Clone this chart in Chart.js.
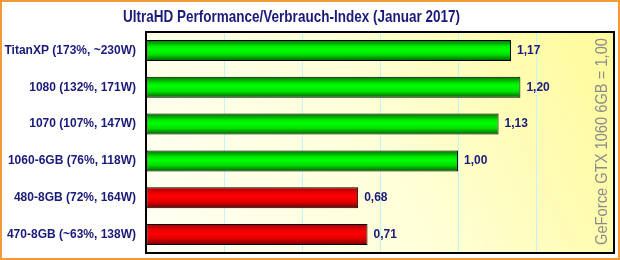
<!DOCTYPE html>
<html>
<head>
<meta charset="utf-8">
<script src="https://cdn.jsdelivr.net/npm/chart.js@4"></script>
<style>
  html, body { margin: 0; padding: 0; background: #fff; }
  #wrap { width: 620px; height: 260px; }
</style>
</head>
<body>
<div id="wrap"><canvas id="chart" width="620" height="260"></canvas></div>
<script>
// data
const categories = ['TitanXP (173%, ~230W)', '1080 (132%, 171W)', '1070 (107%, 147W)', '1060-6GB (76%, 118W)', '480-8GB (72%, 164W)', '470-8GB (~63%, 138W)'];
const indexValues = [1.17, 1.20, 1.13, 1.00, 0.68, 0.71];
const vendors = ['nvidia', 'nvidia', 'nvidia', 'nvidia', 'amd', 'amd'];
const xTicks = [0, 0.25, 0.5, 0.75, 1.0, 1.25, 1.5];

const titleText = 'UltraHD Performance/Verbrauch-Index (Januar 2017)';
const sideText = 'GeForce GTX 1060 6GB = 1,00';
const NAVY = '#1a1a7a';

function barGradient(ctx, top, bottom, vendor) {
  const g = ctx.createLinearGradient(0, top, 0, bottom);
  if (vendor === 'nvidia') {
    g.addColorStop(0, '#006a00');
    g.addColorStop(0.3, '#00e600');
    g.addColorStop(0.45, '#00ff00');
    g.addColorStop(0.7, '#00e000');
    g.addColorStop(1, '#005a00');
  } else {
    g.addColorStop(0, '#a00000');
    g.addColorStop(0.3, '#ee0000');
    g.addColorStop(0.45, '#ff0000');
    g.addColorStop(0.7, '#e00000');
    g.addColorStop(1, '#6a0000');
  }
  return g;
}

// text squeezed to a given width, keeps the font height
function fitText(ctx, txt, x, y, width) {
  const w = ctx.measureText(txt).width;
  ctx.save();
  ctx.translate(x, y);
  ctx.scale(width / w, 1);
  ctx.fillText(txt, 0, 0);
  ctx.restore();
}

const decoPlugin = {
  id: 'deco',
  beforeDraw(chart) {
    const ctx = chart.ctx;
    const a = chart.chartArea;
    ctx.save();
    ctx.fillStyle = '#ffffff';
    ctx.fillRect(0, 0, chart.width, chart.height);
    const g = ctx.createLinearGradient(a.left, a.bottom, a.right, a.top);
    g.addColorStop(0, '#fffff4');
    g.addColorStop(0.5, '#ffffd8');
    g.addColorStop(1, '#fffa98');
    ctx.fillStyle = g;
    ctx.fillRect(a.left, a.top, a.right - a.left, a.bottom - a.top);
    ctx.restore();
  },
  afterDatasetsDraw(chart) {
    const ctx = chart.ctx;
    const meta = chart.getDatasetMeta(0);
    ctx.save();
    ctx.font = 'bold 12px "Liberation Sans", Arial, sans-serif';
    ctx.fillStyle = NAVY;
    ctx.textBaseline = 'middle';
    ctx.textAlign = 'left';
    meta.data.forEach((bar, i) => {
      const txt = indexValues[i].toFixed(2).replace('.', ',');
      ctx.fillText(txt, bar.x + 6, bar.y);
    });
    ctx.restore();
  },
  afterDraw(chart) {
    const ctx = chart.ctx;
    const a = chart.chartArea;
    ctx.save();
    // plot frame
    ctx.strokeStyle = '#000';
    ctx.lineWidth = 2;
    ctx.strokeRect(a.left, a.top, a.right - a.left, a.bottom - a.top);
    // side note
    ctx.translate(603, 245);
    ctx.rotate(-Math.PI / 2);
    ctx.font = '16px "Liberation Sans", Arial, sans-serif';
    ctx.fillStyle = '#8c8c8c';
    ctx.textAlign = 'left';
    ctx.textBaseline = 'middle';
    fitText(ctx, sideText, 0, 0, 207);
    ctx.restore();
    // title
    ctx.save();
    ctx.font = 'bold 17px "Liberation Sans", Arial, sans-serif';
    ctx.fillStyle = NAVY;
    ctx.textAlign = 'left';
    ctx.textBaseline = 'middle';
    fitText(ctx, titleText, 123, 17, 337);
    ctx.restore();
    // outer orange border
    ctx.save();
    ctx.strokeStyle = '#f09a3a';
    ctx.lineWidth = 2;
    ctx.strokeRect(1, 1, chart.width - 2, chart.height - 2);
    ctx.restore();
  }
};

new Chart(document.getElementById('chart'), {
  type: 'bar',
  data: {
    labels: categories,
    datasets: [{
      data: indexValues,
      backgroundColor: (c) => {
        const chart = c.chart;
        if (!chart.chartArea || c.dataIndex === undefined) return '#00ff00';
        const y = chart.scales.y.getPixelForValue(c.dataIndex);
        const half = 10.5;
        return barGradient(chart.ctx, y - half, y + half, vendors[c.dataIndex]);
      },
      borderColor: '#000',
      borderWidth: 1,
      borderSkipped: false,
      barPercentage: 0.57,
      categoryPercentage: 1
    }]
  },
  options: {
    indexAxis: 'y',
    responsive: false,
    animation: false,
    layout: { padding: { left: 0, top: 32, right: 6, bottom: 7 } },
    plugins: {
      legend: { display: false },
      title: { display: false },
      tooltip: { enabled: false }
    },
    scales: {
      x: {
        min: 0,
        max: 1.5,
        afterBuildTicks: (s) => { s.ticks = xTicks.map(v => ({ value: v })); },
        ticks: { display: false },
        grid: { color: '#c8f2fa', lineWidth: 1, drawTicks: false },
        border: { display: false },
        afterFit: (s) => { s.height = 0; s.paddingLeft = 0; s.paddingRight = 0; }
      },
      y: {
        grid: { display: false, drawTicks: false },
        border: { display: false },
        ticks: {
          color: NAVY,
          padding: 10,
          font: { family: '"Liberation Sans", Arial, sans-serif', size: 12, weight: 'bold' }
        },
        afterFit: (s) => { s.width = 146; s.paddingTop = 0; s.paddingBottom = 0; }
      }
    }
  },
  plugins: [decoPlugin]
});
</script>
</body>
</html>
